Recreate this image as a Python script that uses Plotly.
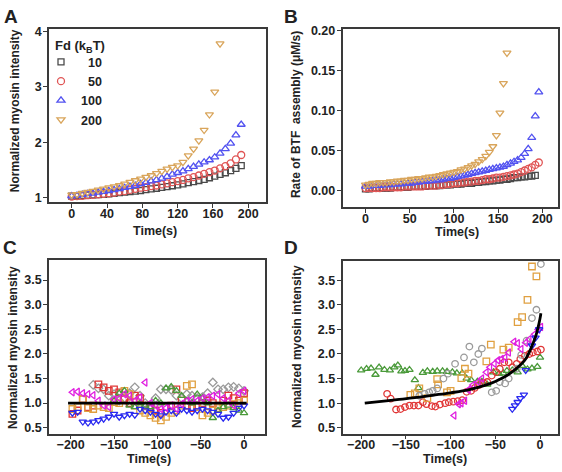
import plotly.graph_objects as go

# ---------------- Panel A : normalized myosin intensity vs time ----------------
tA = [0, 6, 12, 18, 24, 30, 36, 42, 48, 54, 60, 66, 72, 78, 84, 90, 96, 102, 108,
      114, 120, 126, 132, 138, 144, 150, 156, 162, 168, 174, 180, 186, 192]
tA_200 = [0, 6, 12, 18, 24, 30, 36, 42, 48, 54, 60, 66, 72, 78, 84, 90, 96, 102, 108,
          114, 120, 126, 132, 138, 144, 150, 156, 162, 168]
yA_10 = [1.03, 1.035, 1.04, 1.045, 1.05, 1.055, 1.06, 1.07, 1.08, 1.09, 1.10, 1.11, 1.12,
         1.13, 1.145, 1.16, 1.17, 1.185, 1.20, 1.215, 1.23, 1.25, 1.27, 1.29, 1.31, 1.33,
         1.36, 1.39, 1.42, 1.45, 1.49, 1.53, 1.58]
yA_50 = [1.02, 1.03, 1.035, 1.045, 1.05, 1.06, 1.07, 1.08, 1.09, 1.11, 1.12, 1.14, 1.16,
         1.18, 1.19, 1.21, 1.22, 1.24, 1.26, 1.28, 1.30, 1.32, 1.35, 1.37, 1.40, 1.43,
         1.46, 1.49, 1.53, 1.57, 1.62, 1.69, 1.77]
yA_100 = [1.03, 1.04, 1.055, 1.07, 1.08, 1.095, 1.11, 1.125, 1.14, 1.16, 1.18, 1.20, 1.22,
          1.25, 1.27, 1.30, 1.32, 1.35, 1.38, 1.42, 1.45, 1.48, 1.52, 1.56, 1.60, 1.64,
          1.68, 1.73, 1.80, 1.88, 1.98, 2.13, 2.32]
yA_200 = [1.05, 1.06, 1.08, 1.10, 1.12, 1.14, 1.16, 1.18, 1.20, 1.22, 1.25, 1.28, 1.31,
          1.34, 1.37, 1.40, 1.44, 1.48, 1.52, 1.55, 1.58, 1.64, 1.76, 1.88, 2.03, 2.22,
          2.50, 2.91, 3.78]
legend_names = ["\u200710", "\u200750", "100", "200"]

# ---------------- Panel B : rate of BTF assembly ----------------
tB = [0, 4, 8, 12, 16, 20, 24, 28, 32, 36, 40, 44, 48, 52, 56, 60, 64, 68, 72, 76, 80,
      84, 88, 92, 96, 100, 104, 108, 112, 116, 120, 124, 128, 132, 136, 140, 144, 148,
      152, 156, 160, 164, 168, 172, 176, 180, 184, 188, 192, 196]
yB_10 = [0.002, 0.002, 0.003, 0.003, 0.003, 0.003, 0.003, 0.003, 0.004, 0.004, 0.004,
         0.004, 0.004, 0.005, 0.005, 0.005, 0.005, 0.005, 0.006, 0.006, 0.006, 0.006,
         0.007, 0.007, 0.007, 0.008, 0.008, 0.008, 0.009, 0.009, 0.009, 0.010, 0.010,
         0.011, 0.011, 0.012, 0.012, 0.013, 0.013, 0.014, 0.014, 0.015, 0.016, 0.016,
         0.017, 0.017, 0.018, 0.018, 0.019]
yB_50 = [0.003, 0.003, 0.003, 0.003, 0.003, 0.004, 0.004, 0.004, 0.004, 0.004, 0.004,
         0.005, 0.005, 0.005, 0.005, 0.005, 0.005, 0.006, 0.006, 0.006, 0.006, 0.007,
         0.007, 0.008, 0.008, 0.009, 0.009, 0.010, 0.010, 0.011, 0.011, 0.012, 0.012,
         0.013, 0.014, 0.014, 0.015, 0.016, 0.016, 0.017, 0.018, 0.019, 0.020, 0.021,
         0.023, 0.025, 0.027, 0.029, 0.032, 0.035]
yB_100 = [0.005, 0.005, 0.006, 0.006, 0.006, 0.007, 0.007, 0.007, 0.008, 0.008, 0.008,
          0.009, 0.009, 0.009, 0.010, 0.010, 0.011, 0.011, 0.012, 0.012, 0.013, 0.013,
          0.014, 0.015, 0.015, 0.016, 0.017, 0.018, 0.019, 0.020, 0.021, 0.022, 0.023,
          0.024, 0.025, 0.026, 0.027, 0.028, 0.029, 0.030, 0.032, 0.034, 0.036, 0.038,
          0.041, 0.046, 0.052, 0.066, 0.093, 0.123]
yB_200 = [0.007, 0.008, 0.009, 0.009, 0.010, 0.010, 0.010, 0.011, 0.011, 0.012, 0.012,
          0.013, 0.013, 0.014, 0.014, 0.015, 0.015, 0.016, 0.017, 0.017, 0.018, 0.019,
          0.020, 0.021, 0.022, 0.023, 0.024, 0.026, 0.027, 0.029, 0.031, 0.033, 0.036,
          0.039, 0.043, 0.048, 0.055, 0.069, 0.097, 0.134, 0.172]

# ---------------- Panel C : control cells ----------------
tC = [-198, -192, -186, -180, -174, -168, -162, -156, -150, -144, -138, -132, -126, -120,
      -114, -108, -102, -96, -90, -84, -78, -72, -66, -60, -54, -48, -42, -36, -30, -24,
      -18, -12, -6, 0]
yC_magenta = [1.22, 1.23, 1.20, 1.18, 1.16, 1.05, 0.95, 0.92, 1.08, 1.10, 1.18, 1.15, 1.05,
              1.12, 1.42, 1.00, 0.95, 0.88, 0.90, 0.95, 0.88, 0.98, 1.05, 1.08, 1.05, 1.10,
              1.12, 1.15, 1.18, 1.10, 1.05, 0.95, 1.20, 1.25]
yC_blue = [0.80, 0.82, 0.62, 0.60, 0.62, 0.65, 0.68, 0.72, 0.78, 0.72, 0.75, 0.78, 0.76,
           0.88, 0.85, 0.82, 0.78, 0.75, 0.82, 0.85, 0.80, 0.88, 0.85, 0.82, 0.85, 0.88,
           0.85, 0.82, 0.78, 0.70, 0.72, 0.80, 0.90, 0.95]
yC_red = [0.78, 0.85, 1.08, 0.92, 0.95, 1.38, 1.32, 1.25, 1.28, 1.22, 1.08, 1.00, 1.15,
          1.10, 0.95, 0.90, 0.85, 0.80, 0.92, 0.95, 1.28, 1.05, 0.95, 0.90, 0.95, 1.00,
          1.05, 1.00, 0.95, 1.05, 1.15, 1.10, 1.05, 1.20]
yC_orange = [0.88, 0.92, 1.08, 0.90, 0.88, 0.95, 0.92, 0.90, 1.02, 1.00, 1.25, 1.18, 0.95,
             0.85, 0.80, 0.75, 0.70, 0.65, 0.72, 0.80, 0.85, 0.95, 1.35, 1.38, 0.92, 0.75,
             0.80, 0.85, 0.90, 0.92, 0.95, 0.98, 1.00, 1.05]
tC_gray = [-174, -168, -162, -156, -150, -144, -138, -132, -126, -120, -114, -108, -102,
           -96, -90, -84, -78, -72, -66, -60, -54, -48, -42, -36, -30, -24, -18, -12, -6, 0]
yC_gray = [1.37, 1.30, 1.28, 1.15, 1.18, 1.05, 1.10, 1.20, 1.32, 1.15, 1.00, 0.95, 1.10,
           1.28, 1.28, 1.27, 1.15, 1.10, 1.18, 1.15, 1.10, 1.12, 1.20, 1.42, 1.28, 1.28,
           1.32, 1.33, 1.30, 1.25]
tC_green = [-150, -144, -138, -132, -126, -120, -114, -108, -102, -96, -90, -84, -78, -72,
            -66, -60, -54, -48, -42, -36, -30, -24, -18, -12, -6, 0]
yC_green = [1.05, 1.20, 1.25, 0.95, 0.92, 1.00, 0.95, 0.92, 1.05, 1.00, 1.30, 1.33, 1.25,
            1.15, 1.05, 1.00, 1.18, 1.10, 1.00, 0.70, 0.85, 0.92, 0.95, 0.90, 0.85, 0.80]
tC_mean = [-203, 3]
yC_mean = [1.0, 1.0]

# ---------------- Panel D : cells with BTF formation ----------------
tD_green = [-200, -194, -189, -184, -180, -174, -168, -163, -159, -155, -151, -146, -140,
            -136, -131, -126, -120, -115, -109, -104, -98, -93, -87, -82, -77, -70, -65,
            -59, -52, -46, -41, -37, -31, -25, -20, -14, -9, -3, 0]
yD_green = [1.67, 1.70, 1.71, 1.58, 1.73, 1.68, 1.67, 1.73, 1.77, 1.65, 1.66, 1.68, 1.47,
            1.31, 1.62, 1.65, 1.64, 1.65, 1.65, 1.64, 1.63, 1.61, 1.61, 1.50, 1.47, 1.44,
            1.44, 1.38, 1.63, 1.60, 1.61, 1.66, 1.67, 1.63, 1.76, 1.69, 1.71, 1.74, 1.93]
tD_red = [-171, -167, -161, -156, -151, -146, -141, -136, -131, -127, -121, -117, -112,
          -106, -102, -97, -92, -87, -82, -77, -73, -68, -63, -59, -54, -49, -45, -40, -35,
          -31, -26, -22, -17, -12, -8, -3, 1]
yD_red = [1.19, 1.09, 0.87, 0.88, 0.92, 0.95, 0.95, 0.95, 1.02, 0.98, 0.94, 0.93, 0.97,
          1.00, 1.02, 1.03, 1.04, 1.06, 1.23, 1.25, 1.31, 1.37, 1.41, 1.43, 1.56, 1.63, 1.70,
          1.83, 1.83, 1.73, 1.80, 1.90, 1.96, 2.00, 2.03, 2.05, 2.09]
tD_orange = [-145, -140, -135, -126, -115, -114, -104, -100, -88, -84, -80, -60, -55, -41,
             -35, -25, -20, -14, -9, -4]
yD_orange = [1.17, 1.20, 1.30, 1.10, 1.49, 1.38, 1.22, 1.25, 1.51, 1.70, 1.60, 1.85, 2.19,
             2.09, 2.13, 2.65, 2.75, 3.10, 3.78, 3.58]
tD_gray = [-135, -129, -124, -120, -115, -108, -103, -95, -85, -79, -74, -69, -65, -54, -49,
           -45, -39, -35, -26, -21, -15, -9, -4, 1]
yD_gray = [1.15, 1.19, 1.22, 1.25, 1.30, 1.50, 1.60, 1.80, 1.93, 2.15, 1.83, 2.00, 2.11,
           1.22, 1.25, 1.43, 1.40, 1.50, 1.70, 1.98, 2.27, 2.73, 2.90, 3.83]
tD_magenta = [-96, -91, -88, -84, -80, -75, -69, -65, -60, -56, -51, -47, -43, -39, -35,
              -29, -25, -21, -16, -12, -6, -2, 1]
yD_magenta = [0.75, 0.98, 1.00, 1.05, 1.27, 1.37, 1.43, 1.50, 1.63, 1.73, 1.80, 1.87, 1.90,
              1.93, 2.03, 2.25, 2.22, 2.10, 2.23, 2.30, 2.40, 2.50, 2.55]
tD_blue = [-31, -28, -25, -22, -18, -16, -9, -5, -1]
yD_blue = [0.88, 0.95, 1.02, 1.10, 1.17, 1.67, 2.17, 2.33, 2.50]
tD_fit = [-196, -180, -160, -140, -120, -100, -80, -60, -50, -40, -30, -20, -15, -10, -5,
          -2, 0, 1]
yD_fit = [1.00, 1.03, 1.07, 1.11, 1.16, 1.21, 1.27, 1.37, 1.44, 1.53, 1.65, 1.81, 1.93,
          2.12, 2.35, 2.55, 2.72, 2.83]

# ---------------- styling ----------------
W, H = 562, 472
FONT = "Liberation Sans, Arial, sans-serif"
C_GRAY_A, C_RED_A, C_BLUE_A, C_ORG_A = "#4a4a4a", "#e05555", "#5252f0", "#d9a55b"
C_GRAY, C_RED, C_ORG, C_GREEN, C_BLUE, C_MAG = ("#9a9a9a", "#e03535", "#e0a040",
                                               "#4a9a3a", "#2a2af0", "#e020e0")

fig = go.Figure()


def sc(x, y, ax, color, symbol, name=None, legend=False, size=7):
    fig.add_trace(go.Scatter(
        x=x, y=y, mode="markers", xaxis="x" + ax, yaxis="y" + ax,
        name=name, showlegend=legend,
        marker=dict(symbol=symbol, size=size, color=color,
                    line=dict(color=color, width=1.3))))


sc(tA, yA_10, "", C_GRAY_A, "square-open", legend_names[0], True, 6)
sc(tA, yA_50, "", C_RED_A, "circle-open", legend_names[1], True)
sc(tA, yA_100, "", C_BLUE_A, "triangle-up-open", legend_names[2], True)
sc(tA_200, yA_200, "", C_ORG_A, "triangle-down-open", legend_names[3], True)

sc(tB[:49], yB_10, "2", C_GRAY_A, "square-open", size=6)
sc(tB, yB_50, "2", C_RED_A, "circle-open")
sc(tB, yB_100, "2", C_BLUE_A, "triangle-up-open")
sc(tB[:41], yB_200, "2", C_ORG_A, "triangle-down-open")

S = 6.5
sc(tC_gray, yC_gray, "3", C_GRAY, "diamond-open", size=S)
sc(tC, yC_red, "3", C_RED, "square-open", size=S)
sc(tC, yC_orange, "3", C_ORG, "square-open", size=S)
sc(tC_green, yC_green, "3", C_GREEN, "triangle-up-open", size=S)
sc(tC, yC_blue, "3", C_BLUE, "triangle-down-open", size=S)
sc(tC, yC_magenta, "3", C_MAG, "triangle-left-open", size=S)
fig.add_trace(go.Scatter(x=tC_mean, y=yC_mean, mode="lines", xaxis="x3", yaxis="y3",
                         showlegend=False, line=dict(color="black", width=2.8)))

sc(tD_green, yD_green, "4", C_GREEN, "triangle-up-open", size=S)
sc(tD_red, yD_red, "4", C_RED, "circle-open", size=S)
sc(tD_orange, yD_orange, "4", C_ORG, "square-open", size=S)
sc(tD_gray, yD_gray, "4", C_GRAY, "circle-open", size=S)
sc(tD_magenta, yD_magenta, "4", C_MAG, "triangle-left-open", size=S)
sc(tD_blue, yD_blue, "4", C_BLUE, "triangle-down-open", size=S)
fig.add_trace(go.Scatter(x=tD_fit, y=yD_fit, mode="lines", xaxis="x4", yaxis="y4",
                         showlegend=False, line=dict(color="black", width=2.8,
                                                     shape="spline")))


def px_dom(a, b, total, flip=False):
    if flip:
        return [1 - b / total, 1 - a / total]
    return [a / total, b / total]


axstyle = dict(showline=True, mirror=True, linecolor="#3a3a3a", linewidth=1.5,
               ticks="outside", ticklen=4, tickwidth=1.3, tickcolor="#3a3a3a",
               showgrid=False, zeroline=False,
               tickfont=dict(family=FONT, size=12.5, color="#222", weight="bold"))
xst = dict(ticklabelstandoff=-5, **axstyle)
yst = dict(ticklabelstandoff=-1, **axstyle)

layout = dict(
    width=W, height=H, margin=dict(l=0, r=0, t=0, b=0),
    paper_bgcolor="white", plot_bgcolor="white",
    font=dict(family=FONT, color="#222"),
    xaxis=dict(domain=px_dom(49, 265.5, W), range=[-25.7, 219.5],
               tickvals=[0, 40, 80, 120, 160, 200], anchor="y", **xst),
    yaxis=dict(domain=px_dom(24, 200.7, H, True), range=[0.917, 4.05],
               tickvals=[1, 2, 3, 4], anchor="x", **yst),
    xaxis2=dict(domain=px_dom(342.5, 558, W), range=[-26, 217.7],
                tickvals=[0, 50, 100, 150, 200], anchor="y2", **xst),
    yaxis2=dict(domain=px_dom(24, 205.5, H, True), range=[-0.0207, 0.2025],
                tickvals=[0, 0.05, 0.1, 0.15, 0.2], tickformat=".2f", anchor="x2",
                **yst),
    xaxis3=dict(domain=px_dom(49, 265, W), range=[-225, 24.2],
                tickvals=[-200, -150, -100, -50, 0], anchor="y3", **xst),
    yaxis3=dict(domain=px_dom(259.3, 436, H, True), range=[0.38, 3.91],
                tickvals=[0.5, 1, 1.5, 2, 2.5, 3, 3.5], tickformat=".1f", anchor="x3",
                **yst),
    xaxis4=dict(domain=px_dom(342.5, 557.7, W), range=[-220.9, 19.8],
                tickvals=[-200, -150, -100, -50, 0], anchor="y4", **xst),
    yaxis4=dict(domain=px_dom(260, 436, H, True), range=[0.38, 3.9],
                tickvals=[0.5, 1, 1.5, 2, 2.5, 3, 3.5], tickformat=".1f", anchor="x4",
                **yst),
    legend=dict(x=41 / W, y=1 - 43 / H, xanchor="left", yanchor="top",
                bgcolor="rgba(0,0,0,0)", borderwidth=0,
                font=dict(family=FONT, size=12.5, color="#222", weight="bold"),
                tracegroupgap=0, itemsizing="trace"),
)
fig.update_layout(**layout)


def ann(text, x, y, size=12, angle=0, xanchor="center"):
    fig.add_annotation(text=text, x=x / W, y=1 - y / H, xref="paper", yref="paper",
                       showarrow=False, textangle=angle, xanchor=xanchor,
                       yanchor="middle",
                       font=dict(family=FONT, size=size, color="#222", weight="bold"))


ann("Fd (k<sub>B</sub>T)", 53, 42, size=13, xanchor="left")
ann("Time(s)", 155, 230, size=12.5)
ann("Time(s)", 457, 231, size=12.5)
ann("Time(s)", 149, 462, size=12.5)
ann("Time(s)", 445, 462, size=12.5)
ann("Normalized myosin intensity", 15, 108, angle=-90)
ann("Rate of BTF  assembly (\u03bcM/s)", 296, 112, angle=-90)
ann("Normalized myosin intensity", 13, 349, angle=-90)
ann("Normalized myosin intensity", 297, 348, angle=-90)
ann("A", 11, 12, size=19)
ann("B", 291, 12, size=19)
ann("C", 10, 247, size=19)
ann("D", 291, 247, size=19)

fig.write_html("out.html", config={"displayModeBar": False},
               post_script="document.body.style.margin='0';"
                           "document.body.style.overflow='hidden';")
